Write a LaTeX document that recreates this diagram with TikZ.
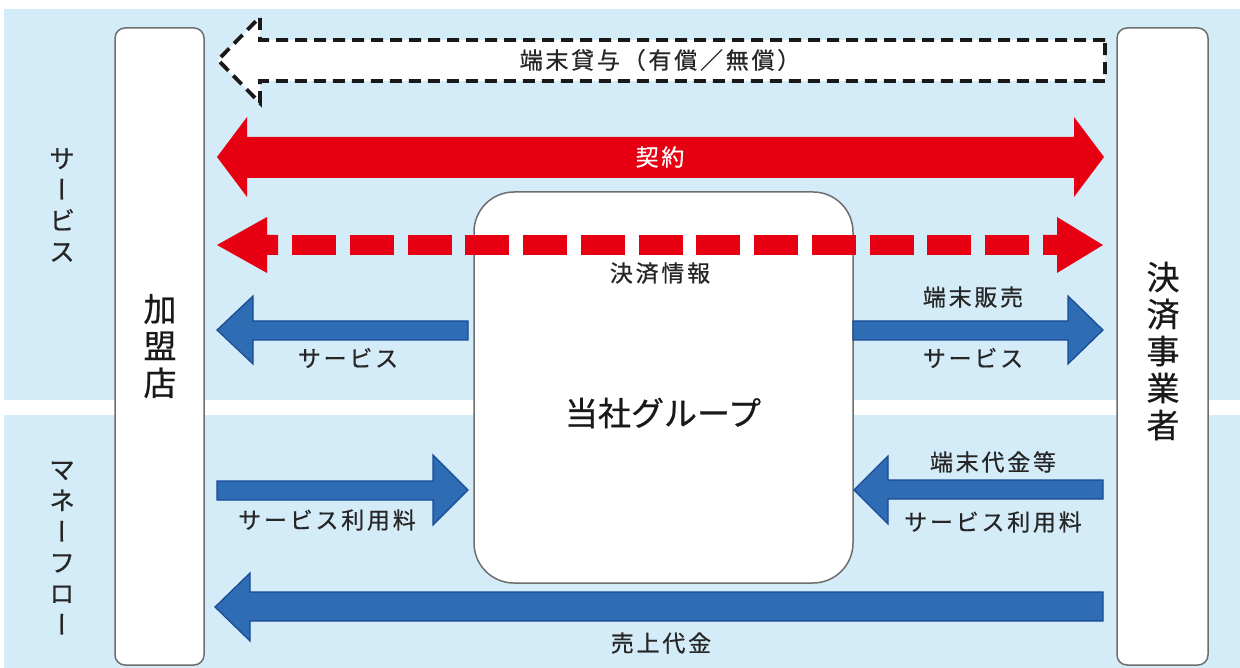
\documentclass[tikz,border=0pt]{standalone}
\usepackage{fontspec}
\setmainfont[FakeBold=0.6]{Noto Sans CJK JP}
\newfontfamily\lblfont[LetterSpace=12,FakeBold=0.6]{Noto Sans CJK JP}
\newfontfamily\vfont[RawFeature=+vert,FakeBold=0.6]{Noto Sans CJK JP}
\definecolor{bgblue}{HTML}{D4ECF8}
\definecolor{ared}{HTML}{E60012}
\definecolor{ablue}{HTML}{2E6DB4}
\definecolor{ablueedge}{HTML}{1A4A96}
\definecolor{boxedge}{HTML}{6E6E6E}
\tikzset{
  party/.style={draw=boxedge, line width=1.5pt, fill=white, rounded corners=10pt},
  lbl/.style={font=\lblfont\fontsize{23}{26}\selectfont, inner sep=0pt, text=black!85},
  sidelbl/.style={font=\vfont\fontsize{26}{31}\selectfont, align=center, inner sep=0pt, text=black!85},
  boxlbl/.style={font=\fontsize{33}{37}\selectfont, align=center, inner sep=0pt, text=black!90},
  bluearrow/.style={fill=ablue, draw=ablueedge, line width=1.2pt, line join=miter},
  redarrow/.style={fill=ared, draw=none},
}
\begin{document}
\begin{tikzpicture}[x=1pt,y=-1pt]
\useasboundingbox (0,0) rectangle (1240,668);
% background
\fill[white] (0,0) rectangle (1240,668);
\fill[bgblue] (4,9) rectangle (1240,400);
\fill[bgblue] (4,415) rectangle (1240,668);

% side labels
\node[sidelbl] (svc) at (62,205) {サ\\ー\\ビ\\ス};
\node[sidelbl] (money) at (62,548) {マ\\ネ\\ー\\フ\\ロ\\ー};

% parties
\draw[party] (115,28) rectangle (204,665);
\node (merchant) at (159.5,346.5) {};
\node[boxlbl] at (160,346) {加\\盟\\店};
\draw[party] (1117,28) rectangle (1208,665);
\node (psp) at (1162.5,346.5) {};
\node[boxlbl] at (1163,351) {決\\済\\事\\業\\者};
\draw[party, rounded corners=40pt] (474,192) rectangle (853,583);
\node[boxlbl, font=\fontsize{33}{37}\selectfont] (group) at (663,413) {当社グループ};

% dashed hollow arrow (端末貸与)
\draw[black!90, line width=3.8pt, dash pattern=on 12pt off 7pt, fill=white, line join=miter]
  (1105,40) -- (260,40) -- (260,17) -- (218,60) -- (260,103) -- (260,81) -- (1105,81) -- cycle;
\node[lbl] (lend) at (660,60) {端末貸与（有償／無償）};

% contract double arrow
\fill[redarrow] (217,157) -- (247,117) -- (247,137) -- (1074,137) -- (1074,117) -- (1104,157)
  -- (1074,197) -- (1074,178) -- (247,178) -- (247,197) -- cycle;
\node[lbl, text=white] (contract) at (660,157) {契約};

% dashed red double arrow (決済情報)
\fill[redarrow] (217,245) -- (267,217) -- (267,235) -- (278,235) -- (278,255) -- (267,255) -- (267,273) -- cycle;
\draw[ared, line width=20pt, dash pattern=on 44pt off 13.75pt] (292,245) -- (1029,245);
\fill[redarrow] (1043,235) -- (1057,235) -- (1057,217) -- (1103,245) -- (1057,273) -- (1057,255) -- (1043,255) -- cycle;
\node[lbl] (info) at (660,273) {決済情報};

% service to merchant
\filldraw[bluearrow] (468,321) -- (253,321) -- (253,296) -- (217,330) -- (253,364) -- (253,340) -- (468,340) -- cycle;
\node[lbl] (l1) at (348,358) {サービス};

% sale / service to PSP
\filldraw[bluearrow] (853,321) -- (1068,321) -- (1068,296) -- (1103,330) -- (1068,364) -- (1068,340) -- (853,340) -- cycle;
\node[lbl] (r1a) at (973,297) {端末販売};
\node[lbl] (r1b) at (973,358) {サービス};

% service fee from merchant
\filldraw[bluearrow] (217,481) -- (433,481) -- (433,455) -- (468,490) -- (433,525) -- (433,500) -- (217,500) -- cycle;
\node[lbl] (l2) at (327,520) {サービス利用料};

% fees from PSP
\filldraw[bluearrow] (1103,480) -- (888,480) -- (888,456) -- (854,490) -- (888,524) -- (888,499) -- (1103,499) -- cycle;
\node[lbl] (r2a) at (993,462) {端末代金等};
\node[lbl] (r2b) at (993,522) {サービス利用料};

% sales proceeds
\filldraw[bluearrow] (1103,592) -- (250,592) -- (250,573) -- (215,607) -- (250,641) -- (250,621) -- (1103,621) -- cycle;
\node[lbl] (sales) at (661,643) {売上代金};
\end{tikzpicture}
\end{document}
